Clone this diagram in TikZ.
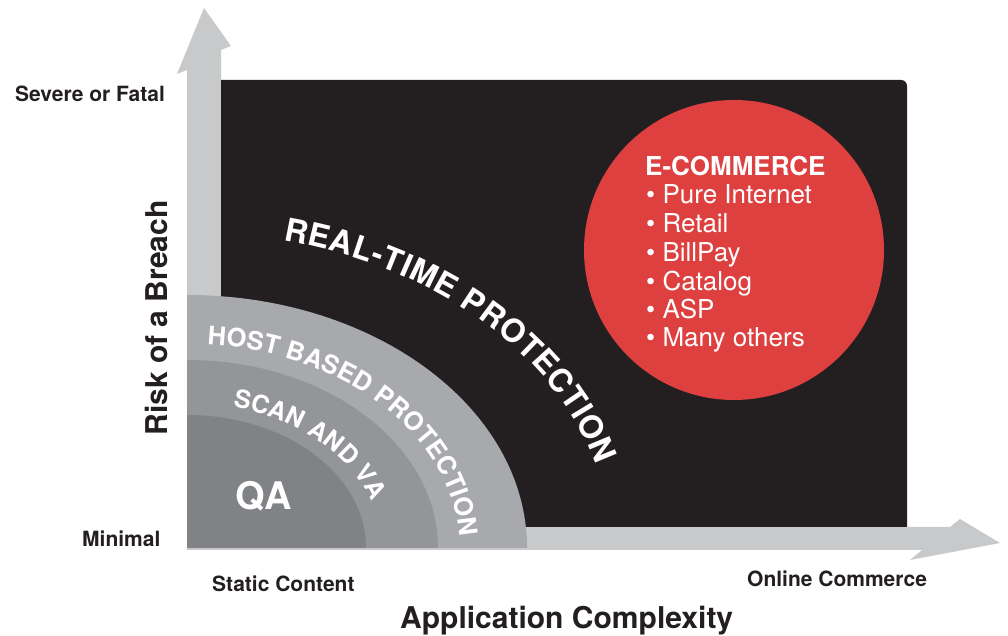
\documentclass[tikz,border=0pt]{standalone}
\usepackage{fontspec}
\setmainfont{TeX Gyre Heros}
\usetikzlibrary{decorations.text}
\definecolor{axisgray}{RGB}{200,201,203}
\definecolor{ringA}{RGB}{167,169,172}
\definecolor{ringB}{RGB}{147,149,152}
\definecolor{ringC}{RGB}{128,130,133}
\definecolor{inkblack}{RGB}{35,31,32}
\definecolor{ecred}{RGB}{222,64,64}
\begin{document}
\begin{tikzpicture}[x=1pt,y=1pt,
  lbl/.style={inner sep=0pt, text=inkblack, anchor=base west, font=\bfseries\fontsize{21}{25}\selectfont},
  biglbl/.style={inner sep=0pt, text=inkblack, font=\bfseries\fontsize{30}{36}\selectfont},
  ecline/.style={inner sep=0pt, text=white, anchor=base west, font=\fontsize{26}{30}\selectfont},
  arctext/.style={decorate, decoration={text along path, text color=white, text align=fit to path, text={#1}}}
]
\useasboundingbox (0,0) rectangle (1008,636);
% axes
\fill[axisgray] (187,86) -- (187,566) -- (177,562) -- (204,628) -- (231,590) -- (221,586) -- (221,86) -- cycle;
\fill[axisgray] (187,109) -- (950,109) -- (960,117) -- (1000,93) -- (910,76) -- (922,86) -- (187,86) -- cycle;
% black field
\fill[inkblack] (221,109) -- (221,556) -- (901,556) arc[start angle=90, end angle=0, radius=6] -- (907,109) -- cycle;
% rings
\fill[ringA] (187,88) -- (527,88) arc[start angle=0, end angle=90, x radius=340, y radius=253] -- cycle;
\fill[ringB] (187,88) -- (438,88) arc[start angle=0, end angle=90, x radius=251, y radius=188] -- cycle;
\fill[ringC] (187,88) -- (366,88) arc[start angle=0, end angle=90, x radius=179, y radius=133] -- cycle;
% red circle
\fill[ecred] (734,386) circle[radius=150];
% arc texts
\path[arctext={|\bfseries\fontsize{32}{32}\selectfont|REAL-TIME PROTECTION}]
  (187,88) ++(76.9:424 and 316) arc[start angle=76.9, end angle=15.2, x radius=424, y radius=316];
\path[arctext={|\bfseries\fontsize{25.5}{25.5}\selectfont|HOST BASED PROTECTION}]
  (187,88) ++(85.8:273 and 204) arc[start angle=85.8, end angle=3.1, x radius=273, y radius=204];
\path[arctext={|\bfseries\fontsize{25}{25}\selectfont|SCAN AND VA}]
  (187,88) ++(76.4:195 and 145) arc[start angle=76.4, end angle=18.5, x radius=195, y radius=145];
\node[inner sep=0pt, anchor=base west, text=white, font=\bfseries\fontsize{38}{40}\selectfont] (qa) at (235,126) {QA};
% e-commerce list
\node[ecline, font=\bfseries\fontsize{26}{30}\selectfont] (ec0) at (645,460) {E-COMMERCE};
\node[ecline] (ec1) at (646,432) {\textbullet{} Pure Internet};
\node[ecline] (ec2) at (646,403) {\textbullet{} Retail};
\node[ecline] (ec3) at (646,374) {\textbullet{} BillPay};
\node[ecline] (ec4) at (646,345) {\textbullet{} Catalog};
\node[ecline] (ec5) at (646,317) {\textbullet{} ASP};
\node[ecline] (ec6) at (646,289) {\textbullet{} Many others};
% axis labels
\node[lbl] (severe) at (15,534) {Severe or Fatal};
\node[lbl] (minimal) at (82,89) {Minimal};
\node[lbl] (static) at (212,44) {Static Content};
\node[lbl] (online) at (747,49) {Online Commerce};
\node[biglbl, rotate=90, anchor=base] (risk) at (167,318) {Risk of a Breach};
\node[biglbl, anchor=base west] (appc) at (400,7) {Application Complexity};
\end{tikzpicture}
\end{document}
